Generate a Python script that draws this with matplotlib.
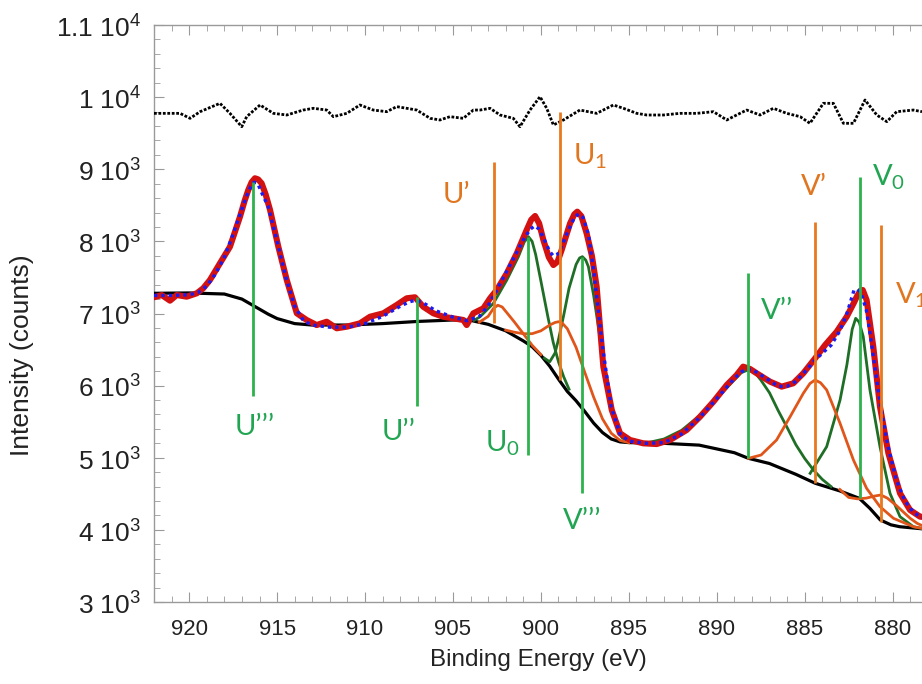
import numpy as np
import matplotlib
matplotlib.use("Agg")
import matplotlib.pyplot as plt
from matplotlib.ticker import MultipleLocator, FixedLocator

plt.rcParams['font.family'] = ['Liberation Sans', 'DejaVu Sans']

# ---- data (binding energy eV, counts) ----
data_x = [922.0, 921.56, 921.09, 920.71, 920.14, 919.57, 919.2, 918.82, 918.25, 917.68,
          917.11, 916.85, 916.64, 916.45, 916.26, 916.08, 915.88, 915.65, 915.40, 914.93,
          914.45, 913.88, 913.32, 912.75, 912.18, 911.61, 911.04, 910.29, 909.72, 908.96,
          908.20, 907.63, 907.16, 906.69, 906.12, 905.55, 904.98, 904.41, 904.22, 903.84,
          903.27, 902.89, 902.51, 901.94, 901.37, 900.81, 900.55, 900.33, 900.1, 899.86,
          899.55, 899.29, 899.05, 898.82, 898.34, 898.1, 897.93, 897.7, 897.40, 897.1,
          896.83, 896.45, 895.97, 895.50, 894.93, 894.18, 893.42, 892.66, 891.71, 890.95,
          890.19, 889.43, 888.87, 888.50, 888.1, 887.73, 886.97, 886.31, 885.65, 885.08,
          884.41, 883.84, 883.18, 882.61, 882.2, 882.04, 881.85, 881.7, 881.48, 881.10,
          880.72, 880.24, 879.58, 879.01, 878.44, 878.33]
data_y = [7225, 7256, 7178, 7256, 7233, 7280, 7350, 7464, 7696, 7926,
          8342, 8560, 8712, 8820, 8875, 8860, 8805, 8650, 8435, 7926,
          7464, 7003, 6910, 6840, 6886, 6795, 6817, 6864, 6955, 7003,
          7118, 7211, 7225, 7094, 7003, 6955, 6933, 6910, 6840, 7003,
          7072, 7211, 7326, 7557, 7835, 8158, 8300, 8352, 8250, 8019,
          7780, 7672, 7720, 7880, 8250, 8375, 8412, 8350, 8112, 7800,
          7372, 6263, 5662, 5339, 5246, 5200, 5190, 5246, 5385, 5569,
          5777, 6009, 6147, 6263, 6230, 6171, 6055, 5986, 6032, 6171,
          6378, 6563, 6748, 6956, 7150, 7233, 7310, 7326, 7187, 6540,
          5708, 5061, 4507, 4275, 4183, 4180]

fit_x = [922.0, 921.0, 920.0, 919.5, 919.0, 918.5, 918.0, 917.5, 917.0, 916.75, 916.5,
         916.3, 916.1, 915.85, 915.5, 915.0, 914.5, 914.0, 913.5, 913.0, 912.0, 911.0,
         910.0, 909.0, 908.0, 907.5, 907.2, 906.8, 906.5, 906.0, 905.0, 904.2, 903.5,
         903.0, 902.5, 902.0, 901.5, 901.0, 900.6, 900.35, 900.1, 899.8, 899.5, 899.3,
         899.0, 898.5, 898.1, 897.85, 897.6, 897.3, 897.0, 896.5, 896.0, 895.5, 895.0,
         894.0, 893.0, 892.0, 891.0, 890.0, 889.0, 888.6, 888.3, 887.9, 887.5, 886.5,
         886.0, 885.5, 885.0, 884.5, 884.0, 883.5, 883.0, 882.6, 882.35, 882.2, 882.0,
         881.8, 881.5, 881.3, 880.8, 880.3, 879.8, 879.3, 878.8, 878.33]
fit_y = [7250, 7250, 7260, 7290, 7380, 7550, 7780, 8100, 8450, 8620, 8760,
         8820, 8800, 8660, 8480, 8000, 7500, 7100, 6900, 6840, 6810, 6810,
         6860, 6960, 7100, 7160, 7180, 7160, 7120, 7040, 6950, 6900, 6960,
         7110, 7330, 7560, 7790, 8020, 8170, 8215, 8170, 8020, 7860, 7800,
         7830, 8120, 8330, 8380, 8330, 8100, 7600, 6550, 5700, 5330, 5230,
         5200, 5210, 5330, 5550, 5820, 6100, 6190, 6230, 6210, 6150, 5990,
         5990, 6060, 6190, 6330, 6450, 6560, 6760, 7000, 7200, 7320, 7335,
         7290, 7050, 6750, 5900, 5200, 4700, 4400, 4240, 4170]

bg_x = [922.0, 920.0, 918.0, 917.0, 916.5, 916.0, 915.5, 915.0, 914.0, 913.0, 911.0, 909.0,
        907.0, 905.0, 904.0, 903.0, 902.0, 901.0, 900.5, 900.0, 899.5, 899.0, 898.5, 898.0,
        897.5, 897.0, 896.5, 896.0, 895.5, 895.0, 893.0, 891.0, 889.0, 888.2, 887.0, 885.5,
        884.4, 883.0, 881.9, 881.3, 880.7, 880.1, 879.6, 878.33]
bg_y = [7280, 7285, 7270, 7200, 7130, 7060, 6990, 6930, 6860, 6840, 6840, 6860,
        6890, 6910, 6905, 6850, 6760, 6620, 6540, 6420, 6270, 6090, 5920, 5790,
        5640, 5480, 5350, 5260, 5220, 5210, 5200, 5175, 5070, 4992, 4920, 4770,
        4646, 4540, 4438, 4300, 4137, 4070, 4044, 4015]

resid_x = [922.0, 920.52, 919.95, 919.38, 918.25, 917.68, 917.01, 916.73, 915.97, 915.21,
           914.45, 913.51, 912.94, 912.18, 911.80, 911.04, 910.29, 909.53, 908.77, 908.20,
           907.63, 907.06, 906.30, 905.74, 905.17, 904.41, 903.84, 903.46, 902.89, 902.32,
           901.57, 901.19, 900.62, 900.05, 899.67, 899.29, 898.72, 897.78, 896.83, 895.88,
           895.31, 894.55, 893.98, 893.04, 892.09, 891.14, 890.19, 889.43, 889.06, 888.30,
           887.54, 886.78, 886.02, 885.26, 884.70, 883.94, 883.37, 882.80, 882.23, 881.57,
           880.90, 880.33, 879.77, 878.82, 878.33]
resid_y = [9775, 9775, 9706, 9798, 9914, 9775, 9590, 9729, 9891, 9775,
           9752, 9821, 9845, 9821, 9729, 9775, 9891, 9821, 9798, 9868,
           9845, 9821, 9706, 9683, 9729, 9706, 9821, 9821, 9845, 9752,
           9706, 9590, 9821, 10006, 9845, 9614, 9683, 9821, 9775, 9891,
           9845, 9775, 9752, 9752, 9775, 9775, 9798, 9683, 9729, 9821,
           9752, 9845, 9775, 9729, 9637, 9914, 9914, 9637, 9637, 9960,
           9752, 9660, 9798, 9821, 9798]

# fitted components (drawn on top of background)
u1p_x = [903.5, 903.0, 902.7, 902.45, 902.2, 901.9, 901.5, 901.0, 900.5, 900.0]
u1p_y = [6880, 6960, 7070, 7115, 7090, 7000, 6880, 6720, 6560, 6430]
u1_x = [902.0, 901.5, 901.0, 900.5, 900.0, 899.5, 899.2, 899.0, 898.8, 898.5, 898.0, 897.5,
        897.0, 896.5, 896.0, 895.5, 895.0]
u1_y = [6770, 6740, 6720, 6720, 6760, 6840, 6875, 6886, 6870, 6790, 6530, 6180,
        5840, 5540, 5340, 5240, 5210]
u0_x = [903.8, 903.46, 902.7, 901.94, 901.28, 900.95, 900.71, 900.5, 900.3, 900.0, 899.6,
        899.3, 899.0, 898.7, 898.4]
u0_y = [6905, 6955, 7141, 7464, 7788, 7990, 8065, 8000, 7820, 7450, 6950,
        6600, 6330, 6120, 5950]
v3_x = [899.8, 899.5, 899.2, 899.0, 898.7, 898.4, 898.0, 897.8, 897.64, 897.45, 897.3,
        897.0, 896.6, 896.2, 895.8, 895.4, 895.0]
v3_y = [6380, 6330, 6450, 6640, 6980, 7350, 7680, 7770, 7788, 7740, 7650,
        7250, 6600, 5950, 5500, 5280, 5215]
v2_x = [894.0, 893.0, 892.0, 891.0, 890.0, 889.0, 888.6, 888.2, 887.8, 887.5, 887.0,
        886.5, 886.0, 885.5, 885.0, 884.5, 884.0, 883.5]
v2_y = [5205, 5260, 5380, 5580, 5820, 6080, 6180, 6220, 6170, 6080, 5900,
        5650, 5420, 5180, 4990, 4830, 4700, 4600]
v1p_x = [888.2, 887.48, 886.6, 885.83, 885.08, 884.7, 884.41, 884.1, 883.75, 882.99,
         882.23, 881.48, 880.72, 879.95, 878.82, 878.33]
v1p_y = [4992, 5038, 5246, 5569, 5893, 6030, 6078, 6040, 5940, 5477,
         4969, 4576, 4322, 4160, 4044, 4020]
v0_x = [884.69, 883.75, 882.99, 882.6, 882.3, 882.1, 881.9, 881.67, 881.29, 880.72,
        880.15, 879.58, 878.82, 878.33]
v0_y = [4784, 5154, 5800, 6290, 6780, 6933, 6880, 6679, 5940, 5154,
        4507, 4183, 4044, 4020]
v1_x = [883.0, 882.5, 882.0, 881.5, 881.0, 880.67, 880.3, 879.8, 879.4, 879.0, 878.6, 878.33]
v1_y = [4560, 4450, 4430, 4440, 4470, 4484, 4440, 4340, 4250, 4160, 4090, 4060]

# peak markers: position, bottom, top, label, label position
green_names = ["U\u2019\u2019\u2019", "U\u2019\u2019", "U$_\\mathregular{0}$", "V\u2019\u2019\u2019",
               "V\u2019\u2019", "V$_\\mathregular{0}$"]
green_pos = [916.39, 907.06, 900.71, 897.64, 888.2, 881.85]
green_bot = [5856, 5717, 5045, 4516, 4992, 4438]
green_top = [8827, 7225, 8065, 7788, 7557, 8888]
green_lab_x = [916.3, 908.07, 902.2, 897.66, 886.57, 880.2]
green_lab_y = [5425, 5362, 5205, 4125, 7035, 8886]

orange_names = ["U\u2019", "U$_\\mathregular{1}$", "V\u2019", "V$_\\mathregular{1}$"]
orange_pos = [902.67, 898.91, 884.41, 880.67]
orange_bot = [6864, 6078, 4646, 4113]
orange_top = [9105, 9798, 8273, 8227]
orange_lab_x = [904.83, 897.2, 884.5, 879.86]
orange_lab_y = [8643, 9184, 8747, 7257]

fig = plt.figure(figsize=(9.22, 6.84), dpi=100)
ax = fig.add_axes([154 / 922, 82 / 684, 1 - 154 / 922, 577 / 684])

ax.plot(bg_x, bg_y, color='black', lw=2.3, zorder=3)
dkgreen = '#1f6e26'
redorange = '#e0561a'
for xs, ys in [(u0_x, u0_y), (v3_x, v3_y), (v2_x, v2_y), (v0_x, v0_y)]:
    ax.plot(xs, ys, color=dkgreen, lw=2.0, zorder=4)
for xs, ys in [(u1p_x, u1p_y), (u1_x, u1_y), (v1p_x, v1p_y), (v1_x, v1_y)]:
    ax.plot(xs, ys, color=redorange, lw=2.0, zorder=4)

ax.plot(data_x, data_y, color='#d41111', lw=4.4, zorder=5,
        solid_capstyle='round', solid_joinstyle='round')
ax.plot(fit_x, fit_y, color='#1c1cf0', lw=2.4, ls=(0, (1, 1.2)), zorder=6)
ax.plot(resid_x, resid_y, color='black', lw=2.0, ls=(0, (1, 0.6)), zorder=6)

green_line = '#2db24c'
orange_line = '#e8791f'
ax.vlines(green_pos, green_bot, green_top, color=green_line, lw=2.0, zorder=7)
ax.vlines(orange_pos, orange_bot, orange_top, color=orange_line, lw=2.0, zorder=7)

lab_font = ['Lato', 'DejaVu Sans']
for name, lx, ly in zip(green_names, green_lab_x, green_lab_y):
    ax.text(lx, ly, name, color='#22a552', fontsize=21, family=lab_font,
            ha='center', va='center', zorder=8)
for name, lx, ly in zip(orange_names, orange_lab_x, orange_lab_y):
    ha = 'left' if name.startswith('V$') else 'center'
    ax.text(lx, ly, name, color='#e0761f', fontsize=21, family=lab_font,
            ha=ha, va='center', zorder=8, clip_on=False)

ax.set_xlim(922, 878.33)
ax.set_ylim(3000, 11000)

ax.xaxis.set_major_locator(MultipleLocator(5))
ax.xaxis.set_minor_locator(MultipleLocator(1))
yticks = [3000, 4000, 5000, 6000, 7000, 8000, 9000, 10000, 11000]
ylabels = ["3 10$^\\mathregular{3}$", "4 10$^\\mathregular{3}$", "5 10$^\\mathregular{3}$",
           "6 10$^\\mathregular{3}$", "7 10$^\\mathregular{3}$", "8 10$^\\mathregular{3}$",
           "9 10$^\\mathregular{3}$", "1 10$^\\mathregular{4}$", "1.1 10$^\\mathregular{4}$"]
ax.yaxis.set_major_locator(FixedLocator(yticks))
ax.set_yticklabels(ylabels)
ax.yaxis.set_minor_locator(MultipleLocator(200))

ax.spines['right'].set_visible(False)
for s in ['left', 'bottom', 'top']:
    ax.spines[s].set_color('#9a9a9a')
    ax.spines[s].set_linewidth(1.0)
ax.tick_params(which='both', direction='in', color='#9a9a9a', top=True, right=False)
ax.tick_params(which='major', length=7, labelcolor='#222222')
ax.tick_params(which='minor', length=4)
ax.tick_params(axis='x', which='major', pad=12, labelsize=16)
ax.tick_params(axis='y', which='major', pad=9, labelsize=19)

fig.text(538 / 922, 1 - 660 / 684, "Binding Energy (eV)", fontsize=17.5,
         ha='center', va='center', color='#222222')
fig.text(22 / 922, 1 - 355 / 684, "Intensity (counts)", fontsize=19,
         ha='center', va='center', rotation=90, color='#222222')

fig.savefig("out.png", dpi=100)
